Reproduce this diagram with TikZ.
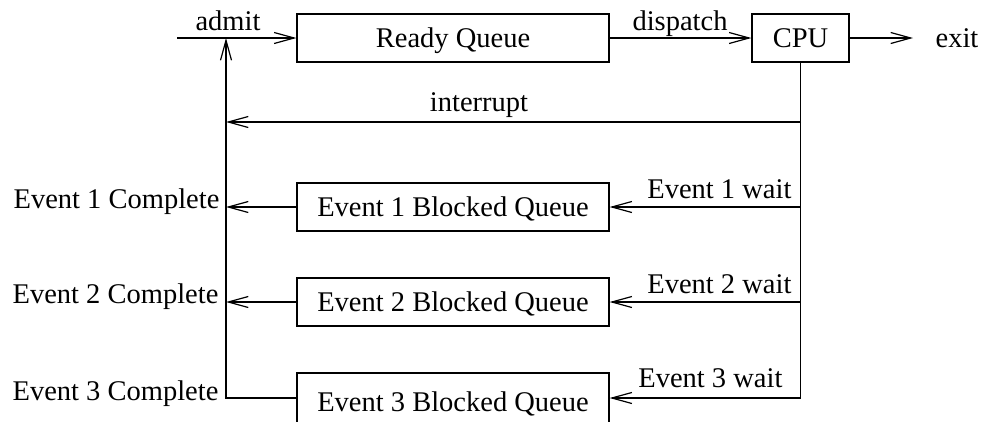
\documentclass[tikz,border=0pt]{standalone}
\usepackage{fontspec}
\setmainfont{Liberation Serif}
\usetikzlibrary{arrows.meta}
\begin{document}
\begin{tikzpicture}[x=1pt,y=-1pt,
  line width=1.2pt,
  txt/.style={font=\fontsize{28.5}{32}\selectfont, inner sep=0pt},
  qbox/.style={draw, txt, minimum height=48pt, inner sep=0pt,
    text height=19pt, text depth=0pt},
  flow/.style={-{Straight Barb[length=20pt,width=11pt,line width=1.2pt]}}]
\useasboundingbox (0,0) rectangle (983,421);

% queues and the processor
\node[qbox, minimum width=312pt] (rq) at (453,38) {Ready Queue};
\node[qbox, minimum width=97pt]  (cpu) at (800.5,38) {CPU};
\node[qbox, minimum width=312pt] (e1) at (453,207) {Event 1 Blocked Queue};
\node[qbox, minimum width=312pt] (e2) at (453,302) {Event 2 Blocked Queue};
\node[qbox, minimum width=312pt, minimum height=50pt, text height=26pt]
  (e3) at (453,398) {Event 3 Blocked Queue};

% free ends of the main flow and points on the buses
\coordinate (in)   at (177,38);
\coordinate (join) at (226,38);
\coordinate (out)  at (913,38);
\coordinate (intR) at (801,122);
\coordinate (intL) at (226,122);

% main flow
\draw[flow] (in) -- (rq.west);
\draw[flow] (rq.east) -- (cpu.west);
\draw[flow] (cpu.east) -- (out);

% return bus on the left
\draw[flow] (e3.west) -| (join);
\draw[flow] (e1.west) -- (join |- e1.west);
\draw[flow] (e2.west) -- (join |- e2.west);

% branch bus on the right
\draw[flow] (cpu.south) |- (e3.east);
\draw[flow] (intR) -- (intL);
\draw[flow] (cpu.south |- e1.east) -- (e1.east);
\draw[flow] (cpu.south |- e2.east) -- (e2.east);

% labels
\node[txt, anchor=base] (ladmit) at (228,30) {admit};
\node[txt, anchor=base] (ldisp) at (680,30) {dispatch};
\node[txt, anchor=base west] (lexit) at (935,47) {exit};
\node[txt, anchor=base] (lint) at (479,111) {interrupt};
\node[txt, anchor=base east] (lw1) at (792,198) {Event 1 wait};
\node[txt, anchor=base east] (lw2) at (792,293) {Event 2 wait};
\node[txt, anchor=base east] (lw3) at (783,387) {Event 3 wait};
\node[txt, anchor=base east] (lc1) at (220,208) {Event 1 Complete};
\node[txt, anchor=base east] (lc2) at (219,303) {Event 2 Complete};
\node[txt, anchor=base east] (lc3) at (219,400) {Event 3 Complete};
\end{tikzpicture}
\end{document}
